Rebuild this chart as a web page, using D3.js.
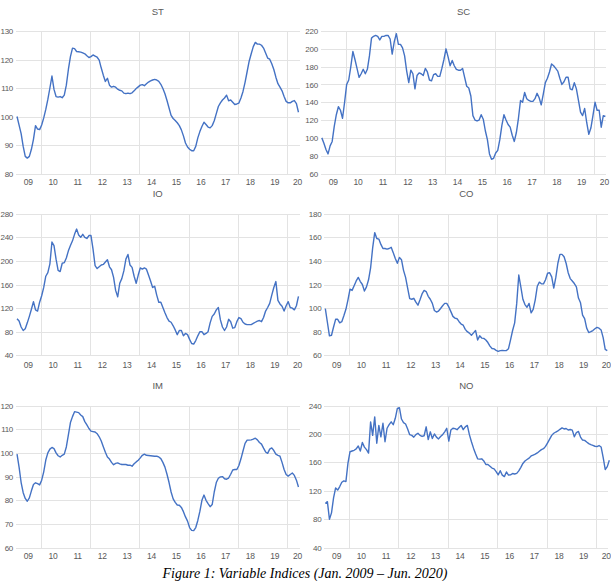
<!DOCTYPE html>
<head>
  <meta charset="utf-8">
  <style>
    body { margin: 0; background: #fff; }
    svg text { font-family: "Liberation Sans", Arial, sans-serif; fill: #595959; }
    svg .grid line { stroke: #e3e3e3; stroke-width: 1px; shape-rendering: crispEdges; }
    svg .domain { display: none; }
    svg .path { fill: none; stroke: #4472C4; stroke-width: 1.4px; stroke-linejoin: round; }
    svg .caption { font-family: "Liberation Serif", "Times New Roman", serif; font-style: italic; fill: #000; }
  </style>
</head>
<body>
<script src="https://cdn.jsdelivr.net/npm/d3@7"></script>
<script>
  // monthly indices, Jan 2009 .. Jun 2020 (138 months)
  var yearLabels = ["09","10","11","12","13","14","15","16","17","18","19","20"];

  var stValues = [
    100, 97, 94, 89.5, 86, 85.4, 86, 88.5, 92, 96.8, 95.6, 95.4,
    97, 99.5, 102.5, 106, 110, 114.2, 109.5, 107, 106.8, 107, 106.6, 107.5,
    111, 116.5, 121, 124, 123.8, 122.8, 122.7, 122.6, 122.3, 122, 121.3, 120.7,
    121, 121.6, 121.2, 120.8, 119.8, 117, 114.5, 112.3, 113.4, 111, 110.3, 110.6,
    110.3, 109.6, 109.2, 109, 108.2, 108, 108.2, 108, 108.3, 109, 109.8, 110.4,
    111, 111.2, 110.8, 111.5, 112.1, 112.5, 112.8, 113, 112.8, 112.3, 111.3, 109.8,
    108, 105.6, 103, 100.4, 99.3, 98.6, 97.8, 96.8, 95.3, 93.2, 90.7, 89.3,
    88.5, 88, 88, 89.5, 92.5, 94.7, 96.5, 98, 97.2, 96.3, 96, 96.8,
    98.5, 101, 103.5, 104.8, 105.8, 106.5, 107.5, 105.5, 105.8, 105, 104.2, 104.4,
    104.7, 106.5, 108.8, 112, 115.7, 119.4, 122, 124.5, 126, 125.4, 125.4, 125,
    124, 122.3, 120.5, 120.1, 118.5, 116.5, 113.8, 111.5, 110.3, 109, 107, 105.3,
    104.8, 104.8, 105.3, 105.6, 104.5, 101.5
  ];

  var scValues = [
    100, 94, 87, 82, 91, 96, 113, 126, 135, 131, 122, 140,
    160, 165, 180, 197, 188, 178, 168, 172, 177, 172, 177, 192,
    212, 214, 215, 214, 210, 214, 214, 215, 215, 211, 194, 208,
    217, 205, 205, 201, 192, 175, 162, 176, 172, 155, 170, 173,
    172, 170, 178, 174, 165, 164, 171, 172, 169, 169, 178, 188,
    200, 191, 181, 187, 181, 177, 176, 176, 178, 168, 158, 156,
    147, 125, 120, 119, 120, 126, 121, 108, 98, 82, 76, 77,
    83, 86, 98, 114, 126, 120, 115, 112, 103, 96, 106, 122,
    142, 140, 151, 144, 142, 141, 141, 144, 150, 145, 137, 149,
    162, 167, 174, 183, 181, 178, 175, 167, 160, 163, 168, 168,
    155, 154, 162, 155, 142, 129, 125, 133, 117, 104, 111, 125,
    140, 131, 131, 112, 125, 124
  ];

  var ioValues = [
    102, 98, 88, 82, 85, 95, 106, 118, 131, 117, 115, 130,
    141, 155, 174, 180, 195, 232, 226, 203, 184, 182, 196, 197,
    205, 217, 226, 234, 245, 254, 244, 240, 245, 240, 238, 243,
    243, 220, 192, 187, 190, 193, 194, 198, 202, 190, 185, 172,
    150, 139, 162, 170, 183, 203, 211, 193, 189, 174, 162, 176,
    188, 186, 188, 186, 176, 166, 155, 157, 142, 130, 130, 121,
    112, 104, 98, 96, 90, 83, 75, 82, 82, 73, 77, 75,
    67, 60, 59, 65, 73, 80, 80, 75, 77, 80, 95, 106,
    110, 117, 121, 100, 88, 82, 88, 101, 97, 86, 87, 97,
    104, 102, 96, 93, 92, 92, 92, 94, 96, 98, 99, 97,
    104, 115, 121, 128, 142, 155, 165, 133, 127, 123, 115, 124,
    131, 121, 120, 117, 124, 140
  ];

  var coValues = [
    99.5, 88, 76.5, 77, 84, 90.5, 90.5, 87.5, 88.5, 93.5, 99, 107,
    116, 115, 119, 123, 126, 122.5, 120, 114.5, 118, 124, 134, 151,
    164, 159, 158.5, 154, 150.5, 150.5, 150, 150.5, 151.5, 147, 142, 138,
    143, 141, 132, 126, 117, 108, 107.5, 108.3, 105, 102.5, 107, 112,
    115, 114, 110, 107.5, 104, 98, 96.7, 97.5, 99.7, 102, 104, 104,
    101, 97, 93, 91.5, 91, 88.5, 86.5, 85.5, 82, 80, 78.8, 77,
    79, 81, 73, 76.5, 74.6, 74.3, 73, 70.8, 67.8, 65.8, 65.4, 64.2,
    63.4, 64, 64.2, 64, 64, 65.6, 73, 81, 87.5, 104, 128, 118,
    107.5, 103, 100.7, 104, 96, 99, 107, 118.5, 122, 120.6, 120.5, 124,
    129.6, 130, 126.5, 117, 126, 138, 145.5, 145.5, 143.5, 138, 130, 125,
    123, 120.8, 118, 108.5, 104.5, 94, 91, 83, 79.3, 80, 81, 82.5,
    83.7, 83, 81.5, 75, 65, 64
  ];

  var imValues = [
    99.5, 94, 87.5, 83.2, 80.8, 79.6, 81, 84, 86.7, 87.4, 87, 86.5,
    88.5, 92, 97, 100, 101.6, 102.3, 101.8, 100, 98.8, 98.3, 99, 99.5,
    102.5, 107.6, 112.8, 115.3, 117.4, 117.2, 117, 116, 115.3, 113.2, 111.8, 110.3,
    109.2, 109, 108.8, 108.1, 106.8, 105, 102.6, 100.3, 98.3, 97.4, 96, 95,
    95.6, 95.8, 95.4, 95.1, 95.1, 95.1, 94.8, 94.8, 94.4, 95.4, 96.2, 96.9,
    97.9, 99, 99.5, 99, 98.9, 98.8, 98.7, 98.6, 98.6, 98.3, 97.6, 96,
    94, 91, 87.5, 83.5, 80.6, 79.1, 78, 77.9, 77, 75.2, 73, 71.2,
    68.5, 67.3, 67.2, 68.5, 71.5, 75.3, 80, 82.2, 80, 78.6, 77.3, 78.2,
    83.5, 87.5, 89.3, 89.9, 90, 89.1, 88.9, 89.4, 91, 92.8, 93, 93,
    94.7, 97.5, 100.8, 104, 105.4, 105.4, 105.5, 105.8, 106.2, 105.5, 104.4, 103.7,
    102, 100.4, 99.8, 101.6, 102.1, 101, 99.5, 99, 98.6, 96, 93, 90.9,
    90.2, 90.9, 91.5, 90.5, 88.5, 85.6
  ];

  var noValues = [
    102, 104.8, 80, 89, 110, 124, 121, 126, 132, 134, 133, 159,
    175, 176, 177, 179, 183, 176, 188, 181.5, 178, 173, 217, 198,
    224, 187, 212, 196, 215, 189, 208, 213, 217, 213, 222, 236,
    237, 221, 216, 214, 207, 199, 198, 195.5, 199, 201, 198, 196.5,
    197.5, 210, 192, 203, 193.7, 200, 195.5, 193, 196.5, 199, 203, 208,
    190, 205.5, 208, 207.5, 206, 209, 212, 206, 210, 212, 199, 189,
    180, 172, 165, 164.5, 165, 162, 157, 157, 154.5, 152, 150.8, 147,
    142.5, 148.3, 142, 140, 146.5, 142.2, 142.5, 144.4, 143.6, 144.5, 148, 153,
    158.5, 162, 164, 166, 169, 170.3, 171.5, 173.3, 175.7, 178, 179.3, 182.5,
    187.5, 192.7, 198, 201, 202.7, 204.2, 206.5, 208.5, 207, 207.6, 205.6, 206.3,
    205.4, 196, 202, 203.5, 195.6, 191.4, 191, 188.6, 186.4, 185, 184, 182.7,
    182.2, 183.7, 181.7, 167, 150, 154, 163
  ];

  var titles = ["ST", "SC", "IO", "CO", "IM", "NO"];
  var series = [stValues, scValues, ioValues, coValues, imValues, noValues];
  var yDomains = [[80, 130], [60, 220], [40, 280], [60, 180], [60, 120], [40, 240]];
  var ySteps = [10, 20, 40, 20, 10, 40];

  // panel layout (pixels)
  var rows = [
    { top: 31,    bottom: 173.5, titleY: 14.5,  labelY: 185 },
    { top: 213.7, bottom: 355.3, titleY: 196.5, labelY: 368 },
    { top: 405.5, bottom: 547.7, titleY: 388.5, labelY: 559 }
  ];
  var cols = [[16, 299.5], [320.8, 606.4], [16, 299.5], [324.3, 608.3], [16, 299.5], [324.3, 608.3]];

  var svg = d3.select("body")
    .append("svg")
      .attr("width", 611)
      .attr("height", 581);

  var nMonths = stValues.length;

  series.forEach(function (values, k) {
    var row = rows[Math.floor(k / 2)];
    var x0 = cols[k][0], x1 = cols[k][1];

    var xScale = d3.scaleLinear().domain([0, nMonths]).range([x0, x1]);
    var yScale = d3.scaleLinear().domain(yDomains[k]).range([row.bottom, row.top]);

    var g = svg.append("g");

    // horizontal grid + y labels
    var yAxis = d3.axisLeft(yScale)
      .tickValues(d3.range(yDomains[k][0], yDomains[k][1] + 1, ySteps[k]))
      .tickSize(-(x1 - x0))
      .tickPadding(3)
      .tickFormat(d3.format("d"));

    g.append("g")
        .classed("grid", true)
        .attr("transform", "translate(" + x0 + ",0)")
        .call(yAxis)
      .selectAll("text")
        .style("font-size", "8px")
        .style("letter-spacing", "-0.3px")
        .style("font-family", "'Liberation Sans', Arial, sans-serif")
        .style("fill", "#595959");

    // vertical grid every second year boundary
    var xAxis = d3.axisBottom(xScale)
      .tickValues([12, 36, 60, 84, 108, 132])
      .tickSize(-(row.bottom - row.top))
      .tickFormat("");

    g.append("g")
        .classed("grid", true)
        .attr("transform", "translate(0," + row.bottom + ")")
        .call(xAxis);

    // year labels centred on each year
    g.selectAll("text.year")
      .data(yearLabels)
      .enter()
      .append("text")
        .classed("year", true)
        .attr("x", function (d, i) { return Math.min(xScale(i * 12 + 6), x1 - 2); })
        .attr("y", row.labelY)
        .text(function (d) { return d; })
        .style("text-anchor", "middle")
        .style("letter-spacing", "-0.2px")
        .style("font-size", "8.5px");

    // title
    g.append("text")
        .attr("x", (x0 + x1) / 2)
        .attr("y", row.titleY)
        .text(titles[k])
        .style("text-anchor", "middle")
        .style("font-size", "9.5px");

    var line = d3.line()
      .x(function (d, i) { return xScale(i + 0.5); })
      .y(function (d) { return yScale(d); });

    g.append("path")
        .classed("path", true)
        .attr("d", line(values));
  });

  svg.append("text")
      .classed("caption", true)
      .attr("x", 305)
      .attr("y", 577.5)
      .text("Figure 1: Variable Indices (Jan. 2009 \u2013 Jun. 2020)")
      .style("text-anchor", "middle")
      .style("font-size", "14px");
</script>
</body>
</html>
